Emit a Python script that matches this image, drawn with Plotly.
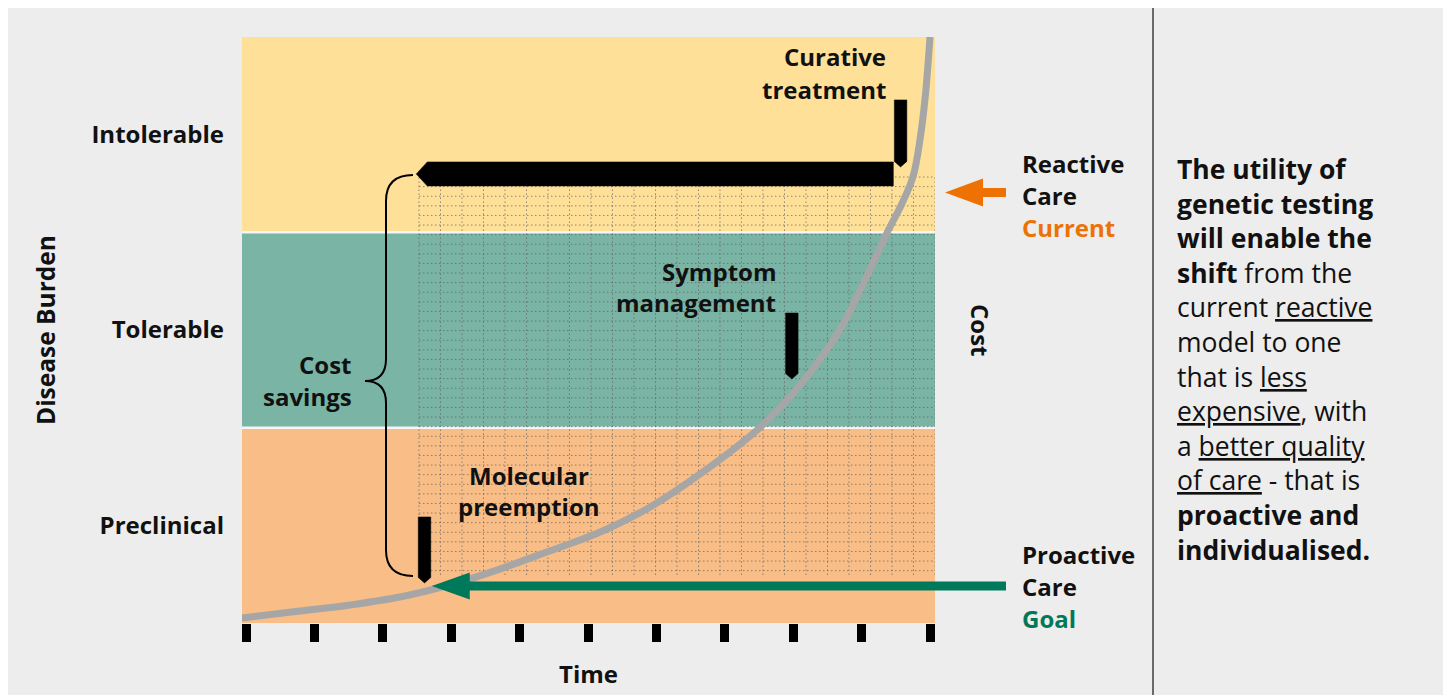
import plotly.graph_objects as go

# ---------------- data ----------------
band_names = ["Preclinical", "Tolerable", "Intolerable"]
band_lo = [0, 1, 2]
band_hi = [1, 2, 3]
band_colors = ["#F9BE87", "#7AB4A5", "#FFE099"]
band_centers = [0.5, 1.5, 2.5]

time_ticks = list(range(11))

# cost curve (x = time units, y = disease burden units)
cost_curve_x = [-0.06, 0.79, 1.52, 2.25, 2.98, 3.71, 4.44, 5.18, 5.91, 6.64, 7.52, 8.10, 8.68, 9.05, 9.37, 9.58, 9.75, 9.86, 9.93, 10.0]
cost_curve_y = [0.026, 0.061, 0.092, 0.133, 0.195, 0.276, 0.369, 0.466, 0.594, 0.763, 1.003, 1.218, 1.50, 1.756, 1.997, 2.14, 2.283, 2.49, 2.693, 3.0]

interventions = ["Molecular<br>preemption", "Symptom<br>management", "Curative<br>treatment"]
intervention_x = [2.61, 7.98, 9.57]
intervention_top = [0.543, 1.587, 2.678]
intervention_tip = [0.205, 1.249, 2.335]

cost_arrow_y = 2.299           # reactive -> proactive cost savings arrow level
goal_arrow_y = 0.189           # proactive care goal level
current_arrow_y = 2.204        # reactive care current level

X_RANGE = [-0.0585, 10.073]
Y_RANGE = [0, 3]

# ---------------- layout geometry ----------------
OX, OY = 8, 8                 # page offset of the figure (body margin)
W, H = 1437, 687
ML, MT = 234, 29
PW, PH = 693, 586
MR = W - ML - PW
MB = H - MT - PH
XPX = PW / (X_RANGE[1] - X_RANGE[0])   # px per x unit
YPX = PH / (Y_RANGE[1] - Y_RANGE[0])   # px per y unit


def pxx(px):  # page pixel -> paper
    return (px - OX - ML) / PW


def pxy(py):
    return (OY + MT + PH - py) / PH


def d2px_x(x):  # data -> page pixel
    return OX + ML + (x - X_RANGE[0]) * XPX


def d2px_y(y):
    return OY + MT + PH - (y - Y_RANGE[0]) * YPX


FONT = "Open Sans"
BLACK = "#111111"
GREEN = "#00785A"
ORANGE = "#EE7203"

fig = go.Figure()
shapes = []

# divider
shapes.append(dict(type="line", xref="paper", yref="paper", x0=pxx(1153), x1=pxx(1153), y0=pxy(700), y1=pxy(0),
                   line=dict(color="#222222", width=1.3), layer="below"))
# bands
for lo, hi, c in zip(band_lo, band_hi, band_colors):
    shapes.append(dict(type="rect", xref="x", yref="y", x0=X_RANGE[0], x1=X_RANGE[1], y0=lo, y1=hi,
                       fillcolor=c, line_width=0, layer="below"))
for b in band_lo[1:]:
    shapes.append(dict(type="line", xref="x", yref="y", x0=X_RANGE[0], x1=X_RANGE[1], y0=b, y1=b,
                       line=dict(color="#F6F6F6", width=2.5), layer="below"))

# dotted grid
gx0 = 2.529
gstepx = 21.5 / XPX
gy_top = 2.283
gy_bot = 0.246
gstepy = 9.6 / YPX
vx = [gx0 + i * gstepx for i in range(25)]
hy = [gy_top - i * gstepy for i in range(42)]
lx, ly = [], []
for v in vx:
    lx += [v, v, None]
    ly += [gy_bot, gy_top, None]
for h in hy:
    lx += [gx0, X_RANGE[1], None]
    ly += [h, h, None]
fig.add_trace(go.Scatter(x=lx, y=ly, mode="lines", hoverinfo="skip",
                         line=dict(color="rgba(95,95,95,0.7)", width=1, dash="1.5px,2.5px")))

# cost curve
fig.add_trace(go.Scatter(x=cost_curve_x, y=cost_curve_y, mode="lines", hoverinfo="skip",
                         line=dict(color="#A6A6A6", width=7, shape="spline", smoothing=1.0)))

# intervention bars (pointed at bottom)
bw = 12.5 / XPX
tipd = 5.5 / YPX
for xc, top, tip in zip(intervention_x, intervention_top, intervention_tip):
    fig.add_trace(go.Scatter(
        x=[xc - bw / 2, xc + bw / 2, xc + bw / 2, xc, xc - bw / 2, xc - bw / 2],
        y=[top, top, tip + tipd, tip, tip + tipd, top],
        mode="lines", fill="toself", fillcolor="black", line=dict(color="black", width=0.5), hoverinfo="skip"))

# big cost savings arrow
half = 12 / YPX
ar_right = intervention_x[2] - bw / 2 - 1 / XPX
ar_tip = intervention_x[0] - bw / 2 - 2 / XPX
ar_head = ar_tip + 11 / XPX
fig.add_trace(go.Scatter(
    x=[ar_tip, ar_head, ar_right, ar_right, ar_head, ar_tip],
    y=[cost_arrow_y, cost_arrow_y + half, cost_arrow_y + half, cost_arrow_y - half, cost_arrow_y - half, cost_arrow_y],
    mode="lines", fill="toself", fillcolor="black", line=dict(color="black", width=0.5), hoverinfo="skip"))


def arrow_path(x_tip, x_end, yc, head_len, head_half, body_half):
    pts = [(x_tip, yc), (x_tip + head_len, yc - head_half), (x_tip + head_len, yc - body_half),
           (x_end, yc - body_half), (x_end, yc + body_half), (x_tip + head_len, yc + body_half),
           (x_tip + head_len, yc + head_half)]
    return "M " + " L ".join(f"{pxx(a):.5f},{pxy(b):.5f}" for a, b in pts) + " Z"


# green goal arrow
g_tip = d2px_x(intervention_x[0]) + bw * XPX / 2 + 1
shapes.append(dict(type="path", xref="paper", yref="paper",
                   path=arrow_path(g_tip, 1006, d2px_y(goal_arrow_y), 38, 13.5, 4.5),
                   fillcolor=GREEN, line_width=0, layer="above"))
# orange current arrow
shapes.append(dict(type="path", xref="paper", yref="paper",
                   path=arrow_path(945, 1006, d2px_y(current_arrow_y), 38, 14, 4.5),
                   fillcolor=ORANGE, line_width=0, layer="above"))

# brace
bx_end, bx_v, bx_mid = 413, 386, 365
by_top, by_mid, by_bot = 175, 381, 576
r = 26


def P(a, b):
    return f"{pxx(a):.5f},{pxy(b):.5f}"


brace = (f"M {P(bx_end, by_top)} Q {P(bx_v, by_top)} {P(bx_v, by_top + r)} "
         f"L {P(bx_v, by_mid - 22)} Q {P(bx_v, by_mid)} {P(bx_mid, by_mid)} "
         f"Q {P(bx_v, by_mid)} {P(bx_v, by_mid + 22)} "
         f"L {P(bx_v, by_bot - r)} Q {P(bx_v, by_bot)} {P(bx_end, by_bot)}")
shapes.append(dict(type="path", xref="paper", yref="paper", path=brace,
                   line=dict(color="black", width=2), layer="above"))

# ---------------- annotations ----------------
ann = []
bold = dict(family=FONT, size=24, color=BLACK, weight="bold")


def A(px, py, text, xanchor="center", font=None, angle=0):
    ann.append(dict(x=pxx(px), y=pxy(py), xref="paper", yref="paper", text=text, showarrow=False,
                    xanchor=xanchor, yanchor="middle", font=font or bold, textangle=angle))


def lines(px, py0, text, xanchor, step=32, font=None):
    for i, t in enumerate(text.split("<br>")):
        A(px, py0 + i * step, t, xanchor=xanchor, font=font)


lines(888, 57, interventions[2], "right")
lines(778, 271, interventions[1], "right", step=31)
lines(529, 476, interventions[0], "center", step=31)
lines(354, 364, "Cost<br>savings", "right")
lines(1020, 163, f"Reactive<br>Care<br><span style='color:{ORANGE}'>Current</span>", "left")
lines(1020, 554, f"Proactive<br>Care<br><span style='color:{GREEN}'>Goal</span>", "left")
A(981, 330, "Cost", angle=90)
A(45, 330, "Disease Burden", font=dict(family=FONT, size=24.5, color=BLACK, weight="bold"), angle=-90)
A(588, 673, "Time")

para = ["<b>The utility of</b>", "<b>genetic testing</b>", "<b>will enable the</b>", "<b>shift</b> from the",
        "current <u>reactive</u>", "model to one", "that is <u>less</u>", "<u>expensive</u>, with",
        "a <u>better quality</u>", "<u>of care</u> - that is", "<b>proactive and</b>", "<b>individualised.</b>"]
pfont = dict(family=FONT, size=26.5, color=BLACK)
for i, t in enumerate(para):
    A(1175, 169 + 34.6 * i, t, xanchor="left", font=pfont)

fig.update_layout(
    width=W, height=H, margin=dict(l=ML, r=MR, t=MT, b=MB, autoexpand=False),
    paper_bgcolor="#EDEDED", plot_bgcolor="rgba(0,0,0,0)", showlegend=False,
    shapes=shapes, annotations=ann,
    xaxis=dict(range=X_RANGE, showgrid=False, zeroline=False, showline=False, tickvals=time_ticks,
               ticks="outside", ticklen=18, tickwidth=9, tickcolor="black", showticklabels=False, fixedrange=True),
    yaxis=dict(range=Y_RANGE, showgrid=False, zeroline=False, showline=False, tickvals=band_centers,
               ticktext=band_names, ticks="", ticklabelstandoff=17,
               tickfont=dict(family=FONT, size=24, color=BLACK, weight="bold"), fixedrange=True),
)
fig.write_html("out.html")
